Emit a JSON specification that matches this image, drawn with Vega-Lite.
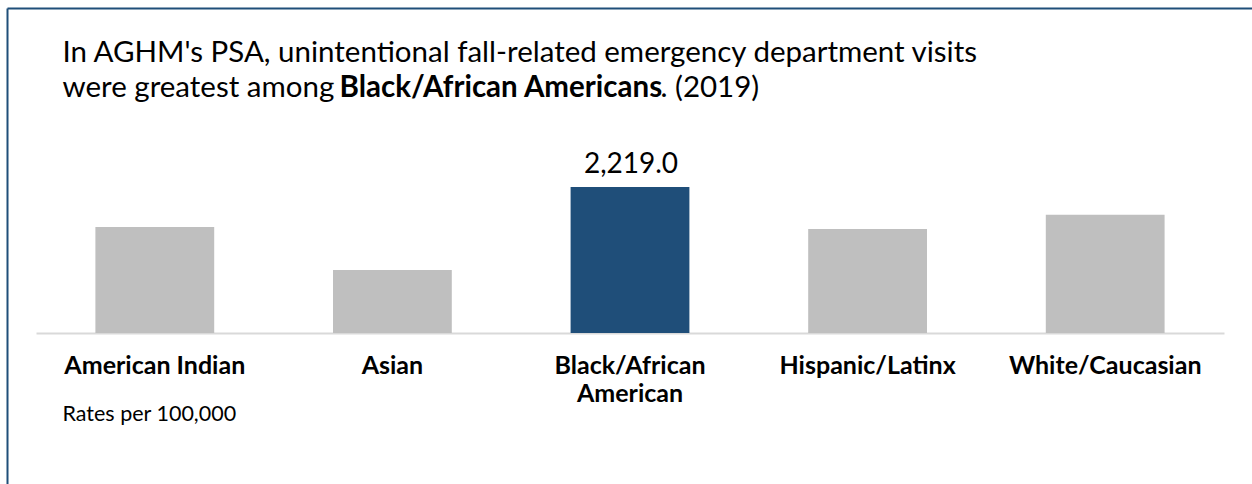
{
  "$schema": "https://vega.github.io/schema/vega-lite/v6.json",
  "usermeta": {"embedOptions": {"actions": false}},
  "width": 1245,
  "height": 476,
  "autosize": "none",
  "padding": {"left": 7, "top": 8, "right": 0, "bottom": 0},
  "background": "white",
  "config": {"view": {"stroke": null}, "font": "Lato"},
  "data": {
    "values": [
      {"race": "American Indian", "rate": 1613},
      {"race": "Asian", "rate": 959},
      {"race": "Black/African American", "rate": 2219},
      {"race": "Hispanic/Latinx", "rate": 1580},
      {"race": "White/Caucasian", "rate": 1797}
    ]
  },
  "resolve": {"scale": {"x": "independent"}, "axis": {"x": "independent", "y": "independent"}},
  "layer": [
    {
      "mark": {"type": "bar"},
      "encoding": {
        "x": {
          "field": "race", "type": "nominal", "sort": null,
          "scale": {"range": [29, 1217], "paddingInner": 0.5, "paddingOuter": 0.25},
          "axis": {
            "orient": "bottom", "offset": -151,
            "domainColor": "#D9D9D9", "domainWidth": 2,
            "ticks": false, "grid": false,
            "labelFont": "Lato", "labelFontSize": 25, "labelFontWeight": "bold", "labelColor": "#000000",
            "labelPadding": 20, "labelLineHeight": 28, "labelAngle": 0, "labelLimit": 400,
            "labelExpr": "datum.value == 'Black/African American' ? ['Black/African', 'American'] : datum.value",
            "title": "Rates per 100,000",
            "titleFont": "Lato", "titleFontSize": 21.5, "titleFontWeight": "normal", "titleColor": "#000000",
            "titleX": 55, "titleY": 87, "titleAlign": "left", "titleBaseline": "alphabetic", "titleAngle": 0
          }
        },
        "y": {
          "field": "rate", "type": "quantitative",
          "scale": {"domain": [-2295, 4940], "nice": false, "zero": false},
          "axis": {
            "orient": "left", "values": [4940],
            "domain": true, "domainColor": "#1F4E79", "domainWidth": 2,
            "grid": false, "ticks": false, "tickSize": 0, "labels": false,
            "title": ["In AGHM's PSA, unintentional fall-related emergency department visits", "were greatest among"],
            "titleFont": "Lato", "titleFontSize": 29.5, "titleFontWeight": "normal", "titleColor": "#000000",
            "titleLineHeight": 35,
            "titleX": 55, "titleY": 53, "titleAlign": "left", "titleBaseline": "alphabetic", "titleAngle": 0
          }
        },
        "y2": {"datum": 0},
        "color": {
          "condition": {"test": "datum.race === 'Black/African American'", "value": "#1F4E79"},
          "value": "#BFBFBF"
        }
      }
    },
    {
      "transform": [{"filter": "datum.race === 'Black/African American'"}],
      "mark": {"type": "text", "baseline": "bottom", "dy": -8, "dx": 1.5, "fontSize": 28, "font": "Lato", "color": "#000000"},
      "encoding": {
        "x": {
          "field": "race", "type": "nominal", "sort": null,
          "scale": {
            "domain": ["American Indian", "Asian", "Black/African American", "Hispanic/Latinx", "White/Caucasian"],
            "paddingInner": 0.5, "paddingOuter": 0.37
          },
          "axis": {
            "orient": "top", "labels": false, "ticks": false, "tickSize": 0, "grid": false,
            "domain": true, "domainColor": "#1F4E79", "domainWidth": 2,
            "title": "Black/African Americans",
            "titleFont": "Lato", "titleFontSize": 29.5, "titleFontWeight": "bold", "titleColor": "#000000",
            "titleX": 332, "titleY": 88, "titleAlign": "left", "titleBaseline": "alphabetic", "titleAngle": 0
          }
        },
        "y": {
          "field": "rate", "type": "quantitative",
          "axis": {
            "orient": "right", "labels": false, "ticks": false, "tickSize": 0, "domain": false, "grid": false,
            "title": ". (2019)",
            "titleFont": "Lato", "titleFontSize": 29.5, "titleFontWeight": "normal", "titleColor": "#000000",
            "titleX": -592, "titleY": 88, "titleAlign": "left", "titleBaseline": "alphabetic", "titleAngle": 0
          }
        },
        "text": {"field": "rate", "type": "quantitative", "format": ",.1f"}
      }
    }
  ]
}
